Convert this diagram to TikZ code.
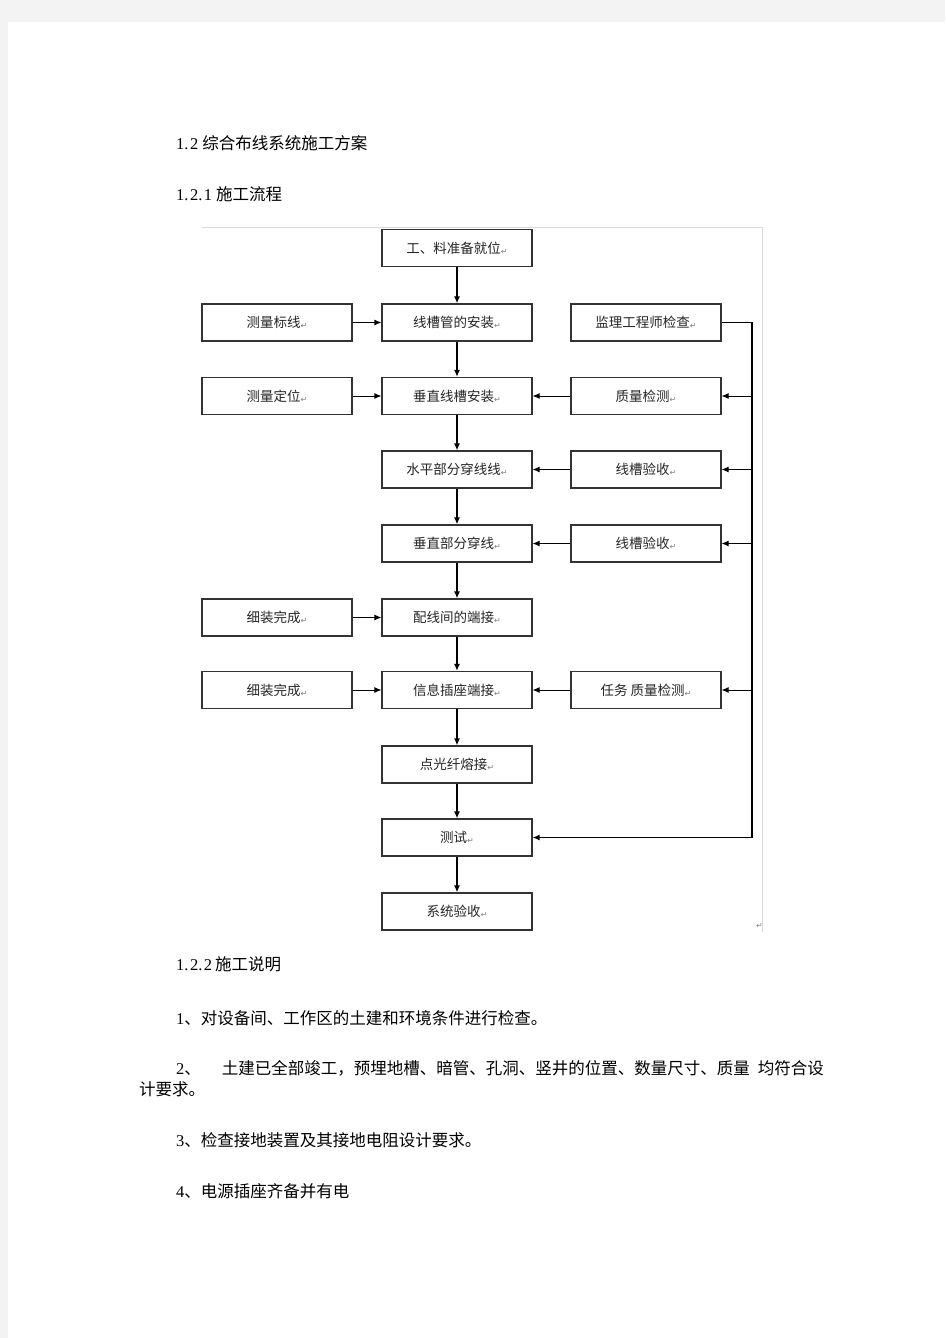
\documentclass[tikz,border=0pt]{standalone}
\usepackage{fontspec}
\setmainfont{Liberation Serif}
\newfontfamily\cjk{Noto Sans CJK SC}
\newfontfamily\dv{DejaVu Sans}
\usetikzlibrary{arrows.meta}
\definecolor{pagegray}{HTML}{F3F3F3}
\definecolor{framegray}{HTML}{DADADA}
\newcommand{\rt}{{\dv\fontsize{8pt}{8pt}\selectfont\color{gray}\raisebox{-1pt}{↵}}}
\tikzset{
  box/.style={draw=black!80, line width=1.2pt, minimum width=150pt, minimum height=37pt, inner sep=0pt, font=\cjk\fontsize{13.5pt}{14pt}\selectfont, text=black!85},
  mainarr/.style={line width=1.8pt, -{Latex[length=7pt,width=6pt]}},
  sidearr/.style={line width=0.9pt, -{Latex[length=7pt,width=6pt]}},
  body/.style={anchor=west, inner sep=0pt, font=\fontsize{16.5pt}{18pt}\selectfont}
}
\begin{document}
\begin{tikzpicture}[x=1pt,y=-1pt]
\useasboundingbox (0,0) rectangle (945,1338);
\fill[pagegray] (0,0) rectangle (945,1338);
\fill[white] (8,22) rectangle (945,1338);
\draw[framegray, line width=0.8pt] (202,227) -- (762,227) -- (762,932);
\node[anchor=east, inner sep=0pt] (pm) at (763,926) {\rt};

% headings
\node[body] (h1) at (176,143) {1.\kern1.5pt2\kern4pt{\cjk 综合布线系统施工方案}};
\node[body] (h2) at (176,194) {1.\kern1.5pt2.\kern1.5pt1\kern4pt{\cjk 施工流程}};

% main column
\node[box] (m1) at (457,248) {工、料准备就位\rt};
\node[box] (m2) at (457,322.5) {线槽管的安装\rt};
\node[box] (m3) at (457,396) {垂直线槽安装\rt};
\node[box] (m4) at (457,469.5) {水平部分穿线线\rt};
\node[box] (m5) at (457,543.5) {垂直部分穿线\rt};
\node[box] (m6) at (457,617.5) {配线间的端接\rt};
\node[box] (m7) at (457,690) {信息插座端接\rt};
\node[box] (m8) at (457,764.5) {点光纤熔接\rt};
\node[box] (m9) at (457,837.5) {测试\rt};
\node[box] (m10) at (457,911.5) {系统验收\rt};

% left column
\node[box] (l1) at (277,322.5) {测量标线\rt};
\node[box] (l2) at (277,396) {测量定位\rt};
\node[box] (l3) at (277,617.5) {细装完成\rt};
\node[box] (l4) at (277,690) {细装完成\rt};

% right column
\node[box] (r1) at (646,322.5) {监理工程师检查\rt};
\node[box] (r2) at (646,396) {质量检测\rt};
\node[box] (r3) at (646,469.5) {线槽验收\rt};
\node[box] (r4) at (646,543.5) {线槽验收\rt};
\node[box] (r5) at (646,690) {任务 质量检测\rt};

\coordinate (bus) at (752,0);

% main flow
\foreach \a/\b in {m1/m2,m2/m3,m3/m4,m4/m5,m5/m6,m6/m7,m7/m8,m8/m9,m9/m10}
  \draw[mainarr] (\a.south) -- (\b.north);

% left inputs
\foreach \a/\b in {l1/m2,l2/m3,l3/m6,l4/m7}
  \draw[sidearr] (\a.east) -- (\b.west);

% right inputs
\foreach \a/\b in {r2/m3,r3/m4,r4/m5,r5/m7}
  \draw[sidearr] (\a.west) -- (\b.east);

% feedback bus
\draw[line width=1.4pt] (r1.east) -- (r1.east -| bus) -- (m9.east -| bus);
\draw[line width=1.4pt, -{Latex[length=7pt,width=6pt]}] (m9.east -| bus) -- (m9.east);
\foreach \b in {r2,r3,r4,r5}
  \draw[sidearr] (\b.east -| bus) -- (\b.east);

% text below
\node[body] (h3) at (176,964) {1.\kern1.5pt2.\kern1.5pt2\kern3pt{\cjk 施工说明}};
\node[body] (t1) at (176,1018) {1{\cjk 、对设备间、工作区的土建和环境条件进行检查。}};
\node[body] (t2) at (176,1068) {2{\cjk 、\hspace{21pt}土建已全部竣工，预埋地槽、暗管、孔洞、竖井的位置、数量尺寸、质量\hspace{8pt}均符合设}};
\node[body] (t2b) at (139,1089) {\cjk 计要求。};
\node[body] (t3) at (176,1140) {3{\cjk 、检查接地装置及其接地电阻设计要求。}};
\node[body] (t4) at (176,1191) {4{\cjk 、电源插座齐备并有电}};
\end{tikzpicture}
\end{document}
